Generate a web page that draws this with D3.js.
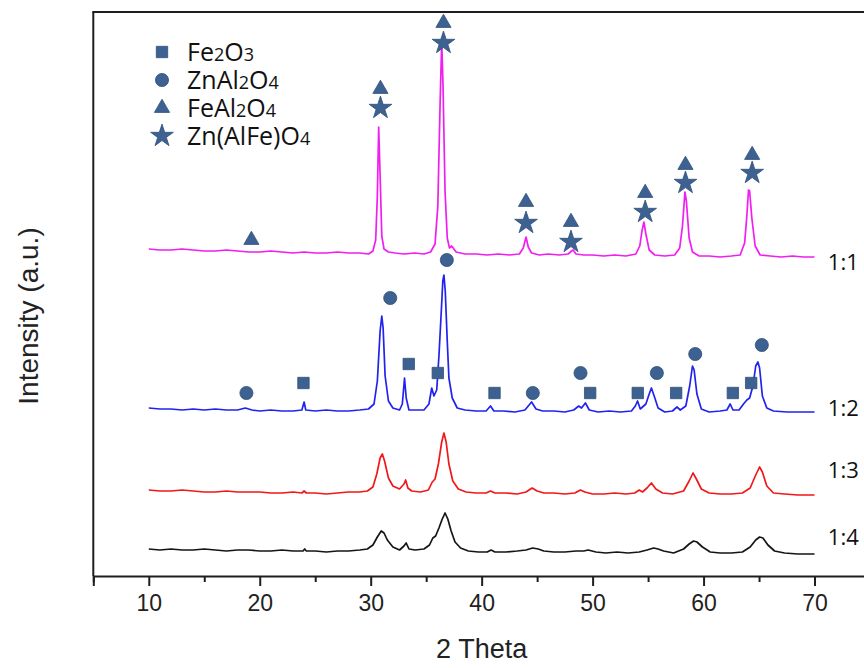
<!DOCTYPE html>
<html><head><meta charset="utf-8">
<script src="https://cdn.jsdelivr.net/npm/d3@7"></script>
<style>
html,body{margin:0;padding:0;background:#fff;}
svg{display:block;}
</style></head>
<body>
<svg id="chart" width="864" height="668"></svg>
<script>
// ---- data: [2theta, intensity (a.u., offsets included)] ----
const series11 = [[10,327],[11,326],[12,326],[13,327],[14,326],[15,325],[16,325],[17,326],[18,325],[19,324],[20,324],[21,325],[22,324],[23,323],[24,324],[25,323],[26,323],[27,324],[28,323],[29,323],[29.8,322],[30.2,325],[30.45,336],[30.6,380],[30.72,449],[30.85,400],[31.0,340],[31.2,327],[31.6,324],[32.2,323],[33,322],[34,323],[34.8,322],[35.4,324],[35.8,332],[36.05,370],[36.25,470],[36.4,534],[36.52,490],[36.7,385],[36.9,338],[37.1,328],[37.3,330],[37.7,324],[38.5,322],[39.5,322],[40.5,321],[41.5,322],[42.5,321],[43.4,322],[43.75,328],[44.0,339],[44.2,329],[44.5,323],[45.2,321],[46,322],[47,321],[47.8,322],[48.1,325],[48.25,326],[48.5,322],[49.2,321],[50,321],[51,320],[52,321],[53,320],[53.9,322],[54.25,330],[54.45,345],[54.62,354],[54.8,342],[55.1,326],[55.6,321],[56.5,320],[57.4,321],[57.85,328],[58.1,350],[58.32,384],[58.45,375],[58.7,338],[59.0,324],[59.6,320],[60.5,320],[61.5,319],[62.5,320],[63.3,321],[63.7,333],[63.9,360],[64.05,386],[64.15,385],[64.35,358],[64.65,330],[65.1,321],[66,320],[67,319],[68,320],[69,319],[70,319]];

const series12 = [[10,168],[11,167],[12,167],[13,166],[14,167],[15,166],[16,167],[17,166],[18,166],[18.7,168],[19.3,166],[20,165],[21,166],[22,165],[23,165],[23.8,166],[24.0,174],[24.15,166],[25,165],[26,166],[27,165],[28,165],[29,166],[29.8,167],[30.3,172],[30.6,195],[30.85,245],[31.0,260],[31.12,248],[31.3,200],[31.6,175],[32.0,168],[32.6,166],[32.85,172],[33.05,198],[33.2,178],[33.45,166],[34,166],[34.8,166],[35.25,172],[35.5,188],[35.7,180],[35.95,186],[36.15,220],[36.35,262],[36.5,295],[36.6,301],[36.72,285],[36.9,235],[37.05,198],[37.35,178],[37.8,168],[38.5,166],[39.5,165],[40.4,165],[40.8,170],[41.1,165],[42,165],[43,164],[43.9,166],[44.5,174],[44.9,167],[45.5,165],[46.5,165],[47.5,164],[48.3,166],[48.75,170],[49.0,168],[49.35,173],[49.7,166],[50.5,164],[51.5,165],[52.5,164],[53.5,165],[53.85,170],[54.05,175],[54.3,167],[54.8,172],[55.1,182],[55.3,188],[55.55,180],[55.9,168],[56.5,164],[57.2,165],[57.6,169],[57.9,166],[58.4,170],[58.75,190],[59.0,210],[59.15,206],[59.4,182],[59.8,167],[60.5,164],[61.5,165],[62.1,166],[62.4,172],[62.65,166],[63.2,166],[63.6,172],[63.9,176],[64.15,178],[64.45,190],[64.7,210],[64.9,214],[65.05,208],[65.3,180],[65.7,168],[66.3,165],[67.5,164],[68.5,164],[70,164]];

const series13 = [[10,86],[11,85],[12,85],[13,86],[14,85],[15,84],[16,84],[17,85],[18,84],[19,84],[20,84],[21,83],[22,83],[23,84],[23.8,83],[24.0,85],[24.2,83],[25,83],[26,82],[27,83],[28,84],[29,84],[29.7,85],[30.2,89],[30.55,102],[30.85,118],[31.05,122],[31.25,115],[31.6,98],[32.0,90],[32.6,87],[33.0,92],[33.15,96],[33.35,88],[33.7,85],[34.5,84],[35.2,86],[35.55,94],[35.8,97],[36.1,112],[36.4,134],[36.6,143],[36.8,134],[37.05,112],[37.4,95],[37.9,87],[38.6,84],[39.5,83],[40.4,83],[40.8,85],[41.2,83],[42.2,83],[43.2,82],[44.0,84],[44.55,88],[45.0,85],[45.6,83],[46.5,83],[47.5,82],[48.4,83],[48.9,86],[49.3,84],[50,82],[51,82],[52,83],[53,82],[53.8,83],[54.2,86],[54.5,84],[54.9,88],[55.3,93],[55.7,87],[56.3,83],[57.2,82],[58.2,85],[58.7,95],[59.05,103],[59.35,97],[59.8,87],[60.5,83],[61.5,82],[62.5,82],[63.5,83],[64.2,88],[64.7,101],[65.05,109],[65.3,104],[65.7,90],[66.3,83],[67.3,82],[68.5,81],[70,81]];

const series14 = [[10,27],[11,26],[12,27],[13,26],[14,26],[15,27],[16,26],[17,25],[18,26],[19,26],[20,25],[21,25],[22,26],[23,25],[23.9,25],[24.05,27],[24.2,25],[25,25],[26,24],[27,25],[28,25],[29,26],[29.7,27],[30.2,31],[30.6,39],[30.95,45],[31.2,43],[31.5,36],[32.0,29],[32.6,26],[33.0,30],[33.2,33],[33.45,27],[34.0,26],[34.8,27],[35.3,31],[35.6,38],[35.85,40],[36.15,48],[36.45,57],[36.7,63],[36.95,57],[37.25,45],[37.6,34],[38.1,28],[38.8,25],[39.7,24],[40.5,24],[40.85,26],[41.2,24],[42.2,24],[43.2,25],[44.0,26],[44.6,28],[45.1,27],[45.6,25],[46.5,24],[47.5,24],[48.5,25],[49.2,25],[49.6,26],[50.3,24],[51.2,23],[52.2,24],[53.2,23],[54.2,24],[54.9,26],[55.5,28],[55.9,27],[56.4,25],[57.3,23],[58.2,27],[58.7,32],[59.1,35],[59.4,34],[59.9,29],[60.6,24],[61.5,23],[62.5,23],[63.5,24],[64.2,29],[64.7,36],[65.05,39],[65.35,38],[65.8,31],[66.4,25],[67.3,23],[68.5,22],[70,22]];

const seriesNames = ["1:1","1:2","1:3","1:4"];
const seriesColors = ["#f01ef0","#2222ee","#f01818","#151515"];
const labelIntensity = [314, 168, 106, 39];

// phase markers [2theta, intensity]
const feAl2O4Marks   = [[19.25,336],[30.88,487],[36.56,553],[44.0,374],[48.05,354],[54.74,383],[58.37,411],[64.38,421]];
const znAlFeO4Marks  = [[30.88,468],[36.56,533],[44.0,353],[48.05,334],[54.74,364],[58.37,393],[64.38,403]];
const znAl2O4Marks   = [[18.8,183],[31.76,278],[36.86,316],[44.61,183],[48.91,203],[55.79,203],[59.25,222],[65.25,231]];
const fe2O3Marks     = [[23.94,193],[33.43,212],[36.05,203],[41.16,183],[49.78,183],[54.07,183],[57.53,183],[62.64,183],[64.29,193]];

const legendNames = [["Fe","2","O","3"],["ZnAl","2","O","4"],["FeAl","2","O","4"],["Zn(AlFe)O","4"]];
const legendShapes = ["square","circle","triangle","star"];

const xTicksMajor = [10,20,30,40,50,60,70];
const xTicksMinor = [5,15,25,35,45,55,65,75];
const xLabel = "2 Theta";
const yLabel = "Intensity (a.u.)";

// ---- drawing ----
const svg = d3.select("#chart");
const x = d3.scaleLinear().domain([5,75]).range([93.3,870]);
const y = d3.scaleLinear().domain([0,564]).range([576,12]);
const markColor = "#3d6191";
const axisColor = "#1e1e1e";

// frame (left, top) and x axis
svg.append("line").attr("x1",x(5)).attr("x2",x(5)).attr("y1",y(564)).attr("y2",y(0))
  .attr("stroke",axisColor).attr("stroke-width",2);
svg.append("line").attr("x1",x(5)-1).attr("x2",x(75)).attr("y1",y(564)).attr("y2",y(564))
  .attr("stroke",axisColor).attr("stroke-width",2);

const xAxis = d3.axisBottom(x).tickValues(xTicksMajor).tickSize(10).tickPadding(9).tickFormat(d3.format("d"));
const gx = svg.append("g").attr("transform",`translate(0,${y(0)})`).call(xAxis);
gx.select(".domain").attr("stroke",axisColor).attr("stroke-width",2);
gx.selectAll(".tick line").attr("stroke",axisColor).attr("stroke-width",2);
gx.selectAll(".tick text").attr("fill","#222").attr("font-family","Liberation Sans, Arial, sans-serif")
  .attr("font-size",23);
const xAxisMinor = d3.axisBottom(x).tickValues(xTicksMinor).tickSize(6).tickFormat("");
const gxm = svg.append("g").attr("transform",`translate(0,${y(0)})`).call(xAxisMinor);
gxm.select(".domain").remove();
gxm.selectAll(".tick line").attr("stroke",axisColor).attr("stroke-width",2);

svg.append("text").attr("x",x(40)).attr("y",658).attr("text-anchor","middle")
  .attr("font-family","Liberation Sans, Arial, sans-serif").attr("font-size",27).attr("fill","#222").text(xLabel);
svg.append("text").attr("transform","translate(38,316) rotate(-90)").attr("text-anchor","middle")
  .attr("font-family","Liberation Sans, Arial, sans-serif").attr("font-size",28).attr("fill","#222").text(yLabel);

// curves
const line = d3.line().x(d=>x(d[0])).y(d=>y(d[1]));
[series11,series12,series13,series14].forEach((s,i)=>{
  svg.append("path").datum(s).attr("d",line).attr("fill","none")
    .attr("stroke",seriesColors[i]).attr("stroke-width",1.7).attr("stroke-linejoin","round");
});

// series labels
seriesNames.forEach((n,i)=>{
  svg.append("text").attr("x",x(71.2)).attr("y",y(labelIntensity[i])+8)
    .attr("font-family","Open Sans, sans-serif").attr("font-size",22).attr("fill","#111").text(n);
});

// markers
const sym = {
  square: d3.symbol().type(d3.symbolSquare).size(130),
  circle: d3.symbol().type(d3.symbolCircle).size(135),
  triangle: d3.symbol().type(d3.symbolTriangle).size(100),
  star: d3.symbol().type(d3.symbolStar).size(160)
};
function drawMarks(arr, shape){
  svg.append("g").selectAll("path").data(arr).join("path")
    .attr("transform",d=>`translate(${x(d[0])},${y(d[1])})`)
    .attr("d",sym[shape]).attr("fill",markColor).attr("stroke","#2f5079").attr("stroke-width",0.8);
}
drawMarks(fe2O3Marks,"square");
drawMarks(znAl2O4Marks,"circle");
drawMarks(feAl2O4Marks,"triangle");
drawMarks(znAlFeO4Marks,"star");

// legend
const lg = svg.append("g");
legendNames.forEach((parts,i)=>{
  const cy = 52 + i*28;
  lg.append("path").attr("transform",`translate(162,${cy})`).attr("d",sym[legendShapes[i]])
    .attr("fill",markColor).attr("stroke","#2f5079").attr("stroke-width",0.8);
  const t = lg.append("text").attr("x",187).attr("y",cy+9)
    .attr("font-family","Open Sans, sans-serif").attr("font-size",25).attr("fill","#111");
  parts.forEach((p,j)=>{
    const sub = j%2===1;
    t.append("tspan").attr("font-size",sub?18:25).text(p);
  });
});
</script>
</body></html>
